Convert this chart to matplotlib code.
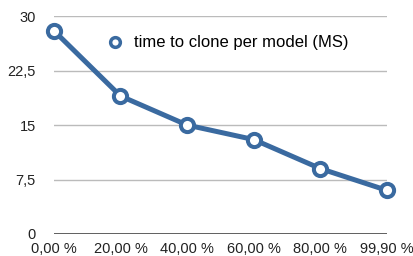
import matplotlib
matplotlib.use("Agg")
import matplotlib.pyplot as plt

categories = ["0,00 %", "20,00 %", "40,00 %", "60,00 %", "80,00 %", "99,90 %"]
values = [28, 19, 15, 13, 9, 6]
y_ticks = [0, 7.5, 15, 22.5, 30]
y_tick_labels = ["0", "7,5", "15", "22,5", "30"]
series_name = "time to clone per model (MS)"

plt.rcParams['font.family'] = ['Liberation Sans', 'DejaVu Sans']

fig = plt.figure(figsize=(4.14, 2.56), dpi=100)
ax = fig.add_axes([0.130, 0.086, 0.805, 0.851])

color = "#3A6AA0"
x = list(range(len(categories)))
ax.plot(x, values, color=color, linewidth=3.6, marker="o", markersize=9.5,
        markerfacecolor="white", markeredgecolor=color, markeredgewidth=2.9,
        label=series_name, zorder=3, clip_on=False)

ax.set_ylim(0, 30)
ax.set_xlim(0, len(categories) - 1)
ax.set_yticks(y_ticks)
ax.set_yticklabels(y_tick_labels)
ax.set_xticks(x)
ax.set_xticklabels(categories)

for t in y_ticks[1:]:
    ax.axhline(t, color="#BBBBBB", linewidth=1.0, zorder=1)
ax.axhline(0, color="#444444", linewidth=1.2, zorder=2)

for s in ax.spines.values():
    s.set_visible(False)
ax.tick_params(axis="both", length=0, labelsize=10.5, colors="#222222")
ax.tick_params(axis="y", pad=13)
ax.tick_params(axis="x", pad=6)

leg = ax.legend(loc="upper left", bbox_to_anchor=(0.115, 0.98), frameon=False,
                fontsize=12, handlelength=1.0, handletextpad=0.6)
for h in leg.get_lines():
    h.set_linewidth(0)
    h.set_markersize(7)
    h.set_markeredgewidth(2.5)

fig.savefig("out.png", dpi=100)
